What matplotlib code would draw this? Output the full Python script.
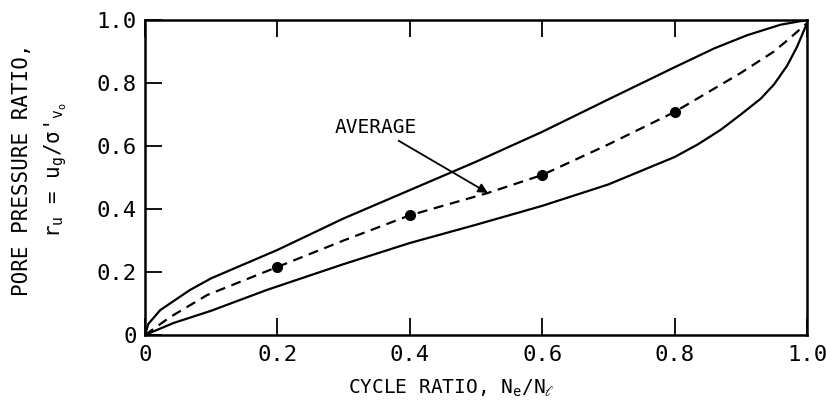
import matplotlib
matplotlib.use("Agg")
import matplotlib.pyplot as plt

# ---- data ----
upper_x = [0, 0.005, 0.023, 0.068, 0.1, 0.2, 0.3, 0.4, 0.5, 0.6, 0.7, 0.8, 0.86, 0.91, 0.96, 1.0]
upper_y = [0, 0.035, 0.079, 0.143, 0.18, 0.27, 0.37, 0.46, 0.55, 0.645, 0.748, 0.85, 0.91, 0.952, 0.985, 1.0]

lower_x = [0, 0.043, 0.1, 0.184, 0.3, 0.4, 0.5, 0.6, 0.7, 0.8, 0.835, 0.87, 0.9, 0.93, 0.95, 0.97, 0.985, 1.0]
lower_y = [0, 0.038, 0.077, 0.143, 0.225, 0.292, 0.35, 0.41, 0.478, 0.565, 0.605, 0.652, 0.70, 0.75, 0.795, 0.855, 0.915, 0.99]

avg_x = [0, 0.038, 0.094, 0.2, 0.3, 0.4, 0.518, 0.6, 0.7, 0.8, 0.9, 0.95, 0.97, 1.0]
avg_y = [0, 0.057, 0.127, 0.216, 0.3, 0.38, 0.451, 0.508, 0.605, 0.708, 0.832, 0.9, 0.935, 0.99]

points_x = [0.2, 0.4, 0.6, 0.8]
points_y = [0.215, 0.38, 0.508, 0.708]

x_ticks = [0, 0.2, 0.4, 0.6, 0.8, 1.0]
x_ticklabels = ["0", "0.2", "0.4", "0.6", "0.8", "1.0"]
y_ticks = [0, 0.2, 0.4, 0.6, 0.8, 1.0]
y_ticklabels = ["0", "0.2", "0.4", "0.6", "0.8", "1.0"]

annot_text = "AVERAGE"
annot_xy = (0.518, 0.451)
annot_text_xy = (0.41, 0.66)

# ---- style ----
plt.rcParams['font.family'] = ['DejaVu Sans Mono', 'DejaVu Sans']
plt.rcParams['mathtext.default'] = 'regular'

fig = plt.figure(figsize=(8.26, 4.11), dpi=100)
ax = fig.add_axes([145/826, 76/411, 662/826, 315/411])

lw = 1.6
ax.plot(upper_x, upper_y, color='black', lw=lw, solid_joinstyle='round')
ax.plot(lower_x, lower_y, color='black', lw=lw, solid_joinstyle='round')
ax.plot(avg_x, avg_y, color='black', lw=lw, linestyle=(0, (4.5, 3)))
ax.plot(points_x, points_y, 'o', color='black', markersize=7)

ax.annotate(annot_text, xy=annot_xy, xytext=annot_text_xy,
            fontsize=14, ha='right', va='center',
            arrowprops=dict(arrowstyle='-|>', color='black', lw=1.3,
                            mutation_scale=14, shrinkA=2, shrinkB=0))

ax.set_xlim(0, 1.0)
ax.set_ylim(0, 1.0)
for s in ax.spines.values():
    s.set_linewidth(1.8)

ax.set_xticks(x_ticks)
ax.set_xticklabels(x_ticklabels)
ax.set_yticks(y_ticks)
ax.set_yticklabels(y_ticklabels)
ax.tick_params(axis='both', direction='in', length=12, width=1.3,
               labelsize=16, top=True, right=False, pad=6)
ax.tick_params(axis='x', pad=7)

fig.text(451/826, 1 - 388/411, "CYCLE RATIO, N$_e$/N$_\\ell$", ha='center', va='center', fontsize=14)
fig.text(22/826, (1 - 170/411), "PORE PRESSURE RATIO,", rotation=90, ha='center', va='center', fontsize=15)
fig.text(56/826, (1 - 170/411), "r$_u$ = u$_g$/σ'$_{v_o}$", rotation=90, ha='center', va='center', fontsize=15)

fig.savefig("out.png", dpi=100)
